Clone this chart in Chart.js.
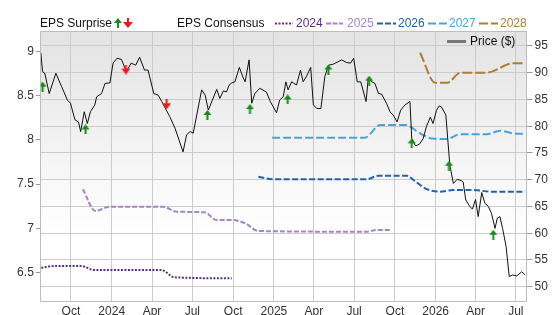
<!DOCTYPE html>
<html>
<head>
<meta charset="utf-8">
<script src="https://cdn.jsdelivr.net/npm/chart.js@4.4.1/dist/chart.umd.min.js"></script>
<style>
  body { margin: 0; background: #fff; }
  #wrap { position: relative; width: 556px; height: 315px; font-family: 'Liberation Sans', Arial, sans-serif; font-size: 12px; }
  #wrap canvas { position: absolute; left: 0; top: 0; }
  .lg { position: absolute; line-height: 14px; white-space: nowrap; color: #111; }
  .lg svg { display: block; }
</style>
</head>
<body>
<div id="wrap">
  <canvas id="grafica" width="556" height="315"></canvas>
  <div class="lg" style="left:40px;top:16px">EPS Surprise</div>
  <div class="lg" style="left:113px;top:18px"><svg width="10" height="10"><path d="M5 0 L9 5 L6 5 L6 10 L4 10 L4 5 L1 5 Z" fill="#1a8a1a"/></svg></div>
  <div class="lg" style="left:123px;top:18px"><svg width="10" height="10"><path d="M4 0 L6 0 L6 4 L10 4 L5 10 L0 4 L4 4 Z" fill="#f01818"/></svg></div>
  <div class="lg" style="left:177px;top:16px">EPS Consensus</div>
  <div class="lg" style="left:275px;top:22px"><svg width="18" height="3"><line x1="0" y1="1.5" x2="18" y2="1.5" stroke="#5b2d87" stroke-width="2" stroke-dasharray="2,1.5"/></svg></div>
  <div class="lg" style="left:296px;top:16px;color:#5b2d87">2024</div>
  <div class="lg" style="left:326px;top:22px"><svg width="17" height="3"><line x1="0" y1="1.5" x2="17" y2="1.5" stroke="#a685c6" stroke-width="2" stroke-dasharray="5,1.5"/></svg></div>
  <div class="lg" style="left:347px;top:16px;color:#a685c6">2025</div>
  <div class="lg" style="left:377px;top:22px"><svg width="19" height="3"><line x1="0" y1="1.5" x2="19" y2="1.5" stroke="#2461ad" stroke-width="2" stroke-dasharray="6,2"/></svg></div>
  <div class="lg" style="left:398px;top:16px;color:#2461ad">2026</div>
  <div class="lg" style="left:428px;top:22px"><svg width="19" height="3"><line x1="0" y1="1.5" x2="19" y2="1.5" stroke="#48a4d6" stroke-width="2" stroke-dasharray="8,3"/></svg></div>
  <div class="lg" style="left:449px;top:16px;color:#48a4d6">2027</div>
  <div class="lg" style="left:479px;top:22px"><svg width="19" height="3"><line x1="0" y1="1.5" x2="19" y2="1.5" stroke="#b07b32" stroke-width="2" stroke-dasharray="9,3"/></svg></div>
  <div class="lg" style="left:500px;top:16px;color:#b07b32">2028</div>
  <div class="lg" style="left:447px;top:40px"><svg width="19" height="3"><line x1="0" y1="1.5" x2="19" y2="1.5" stroke="#777" stroke-width="3"/></svg></div>
  <div class="lg" style="left:470px;top:34px">Price ($)</div>
</div>
<script>
// eje x: inicio de cada trimestre
const fechasTicks = ['2023-10-01','2024-01-01','2024-04-01','2024-07-01','2024-10-01','2025-01-01',
  '2025-04-01','2025-07-01','2025-10-01','2026-01-01','2026-04-01','2026-07-01'];
const etiquetasTicks = ['Oct','2024','Apr','Jul','Oct','2025','Apr','Jul','Oct','2026','Apr','Jul'];
const ticksEps = [6.5, 7, 7.5, 8, 8.5, 9];
const ticksPrecio = [50, 55, 60, 65, 70, 75, 80, 85, 90, 95];

const fechasPrecio = [
  '2023-07-25','2023-07-29','2023-08-03','2023-08-13','2023-08-28','2023-09-10','2023-09-23','2023-09-30','2023-10-10','2023-10-18',
  '2023-10-23','2023-10-31','2023-11-07','2023-11-14','2023-11-24','2023-11-28','2023-12-09','2023-12-17','2023-12-28',
  '2024-01-04','2024-01-13','2024-01-23','2024-02-03','2024-02-14','2024-02-24','2024-03-04','2024-03-15','2024-03-23','2024-04-05',
  '2024-04-15','2024-04-23','2024-05-11','2024-05-23','2024-06-10','2024-06-18','2024-06-26','2024-07-03','2024-07-22','2024-07-30',
  '2024-08-06','2024-08-25','2024-09-01','2024-09-09','2024-09-16','2024-09-22','2024-09-28','2024-10-05','2024-10-15','2024-10-24',
  '2024-10-28','2024-11-06','2024-11-12','2024-11-19','2024-11-30','2024-12-15','2024-12-24',
  '2025-01-07','2025-01-14','2025-01-22','2025-01-28','2025-02-02','2025-02-10','2025-02-21','2025-03-02','2025-03-08','2025-03-16',
  '2025-03-25','2025-03-31','2025-04-08','2025-04-17','2025-04-26','2025-05-04','2025-05-15','2025-06-03','2025-06-14','2025-06-23',
  '2025-06-30','2025-07-08','2025-07-16','2025-07-28','2025-08-02','2025-08-10','2025-08-17','2025-08-25','2025-09-01','2025-09-12',
  '2025-09-20','2025-09-27','2025-10-06','2025-10-14','2025-10-24','2025-11-04','2025-11-08','2025-11-17','2025-11-26','2025-12-04',
  '2025-12-11','2025-12-20','2025-12-26',
  '2026-01-03','2026-01-09','2026-01-14','2026-01-24','2026-02-02','2026-02-10','2026-02-19','2026-02-28','2026-03-04','2026-03-10',
  '2026-03-19','2026-03-25','2026-04-01','2026-04-07','2026-04-15','2026-04-22','2026-04-30','2026-05-07','2026-05-15','2026-05-20',
  '2026-05-26','2026-06-01','2026-06-09','2026-06-16','2026-06-24','2026-07-03','2026-07-14','2026-07-22'];
const precios = [
  93.7, 90.2, 89.9, 86.1, 89.9, 87.4, 84.9, 84.3, 81.2, 80.8,
  79.0, 82.7, 80.5, 82.7, 84.0, 85.5, 86.1, 88.0, 88.1,
  91.8, 92.7, 92.5, 90.2, 91.8, 91.4, 92.9, 90.5, 90.5, 86.1,
  85.8, 84.6, 81.8, 79.6, 75.2, 78.4, 79.0, 78.7, 86.8, 85.8,
  83.0, 86.9, 85.2, 86.6, 86.4, 87.7, 88.1, 88.3, 91.0, 89.0,
  88.3, 92.4, 84.3, 86.1, 87.1, 86.4, 84.6,
  82.5, 84.9, 85.5, 88.3, 86.8, 88.3, 87.7, 90.5, 88.3, 89.4,
  91.0, 84.0, 83.3, 83.3, 89.3, 91.4, 91.6, 92.4, 91.9, 91.8,
  92.7, 88.3, 88.3, 84.6, 89.0, 88.3, 88.0, 86.1, 86.0, 84.3,
  82.7, 82.1, 80.8, 83.0, 84.0, 84.6, 77.7, 76.3, 76.7, 77.7,
  79.9, 81.7, 80.5,
  83.0, 83.8, 83.6, 82.1, 72.7, 69.3, 70.1, 69.8, 69.6, 66.2,
  65.0, 64.5, 66.3, 63.1, 67.6, 65.6, 65.0, 63.7, 60.9, 62.8,
  63.1, 60.9, 57.5, 51.9, 52.2, 52.0, 52.8, 52.2];

// consenso EPS por año fiscal
const fechas2024 = ['2023-07-26','2023-08-25','2023-10-24','2023-11-23','2024-04-22','2024-05-22','2024-09-28'];
const eps2024 = [6.556, 6.576, 6.576, 6.530, 6.530, 6.448, 6.437];
const fechas2025 = ['2023-10-28','2023-11-25','2023-12-27','2024-04-26','2024-05-26','2024-07-29','2024-08-24','2024-09-28',
  '2024-10-28','2024-11-27','2025-07-29','2025-08-21','2025-09-23'];
const eps2025 = [7.442, 7.197, 7.245, 7.245, 7.189, 7.182, 7.095, 7.095, 7.058, 6.971, 6.963, 6.982, 6.982];
const fechas2026 = ['2024-11-27','2024-12-31','2025-07-29','2025-08-25','2025-10-28','2025-11-12','2025-12-08','2026-01-11',
  '2026-02-09','2026-03-26','2026-05-09','2026-07-22'];
const eps2026 = [7.584, 7.555, 7.555, 7.595, 7.595, 7.547, 7.453, 7.415, 7.433, 7.433, 7.415, 7.415];
const fechas2027 = ['2024-12-28','2025-07-25','2025-08-29','2025-10-24','2025-11-27','2025-12-23','2026-01-26','2026-02-25',
  '2026-04-26','2026-05-26','2026-06-24','2026-07-22'];
const eps2027 = [8.024, 8.024, 8.168, 8.168, 8.074, 8.015, 8.010, 8.063, 8.063, 8.103, 8.074, 8.066];
const fechas2028 = ['2025-11-27','2025-12-31','2026-01-27','2026-02-26','2026-04-26','2026-06-25','2026-07-22'];
const eps2028 = [8.984, 8.645, 8.645, 8.758, 8.758, 8.864, 8.864];

// sorpresas EPS (posición sobre el precio)
const fechasSuperan = ['2023-07-29','2023-11-03','2024-08-04','2024-11-08','2025-02-01','2025-05-04','2025-08-04','2025-11-08','2026-01-31','2026-05-11'];
const valoresSuperan = [87.4, 79.4, 82.1, 83.2, 85.0, 90.6, 88.5, 76.8, 72.6, 59.7];
const fechasFallan = ['2024-02-02','2024-05-04'];
const valoresFallan = [90.6, 84.1];

const inicio = '2023-07-25';
const fin = '2026-07-25';

function ts(f) {
  const [a, m, d] = f.split('-').map(Number);
  return Date.UTC(a, m - 1, d);
}
function puntos(fechas, valores) {
  return fechas.map((f, i) => ({ x: ts(f), y: valores[i] }));
}

function flecha(color, arriba) {
  const c = document.createElement('canvas');
  c.width = 9; c.height = 10;
  const g = c.getContext('2d');
  g.fillStyle = color;
  g.beginPath();
  if (arriba) {
    g.moveTo(4.5, 0); g.lineTo(8.5, 5); g.lineTo(0.5, 5);
    g.fill();
    g.fillRect(3.5, 5, 2, 5);
  } else {
    g.moveTo(0, 4); g.lineTo(9, 4); g.lineTo(4.5, 10);
    g.fill();
    g.fillRect(3.5, 0, 2, 4);
  }
  return c;
}

const fuente = { family: "'Liberation Sans', Arial, sans-serif", size: 12 };

const fondo = {
  id: 'fondo',
  beforeDraw(chart) {
    const { ctx, chartArea: a } = chart;
    const grad = ctx.createLinearGradient(0, a.top, 0, a.bottom);
    grad.addColorStop(0, '#e3e3e3');
    grad.addColorStop(0.75, '#ffffff');
    ctx.save();
    ctx.fillStyle = grad;
    ctx.fillRect(a.left, a.top, a.right - a.left, a.bottom - a.top);
    ctx.restore();
  },
  afterDraw(chart) {
    const { ctx, chartArea: a } = chart;
    ctx.save();
    ctx.strokeStyle = '#bdbdbd';
    ctx.lineWidth = 1;
    ctx.beginPath();
    ctx.moveTo(a.left, a.top + 0.5);
    ctx.lineTo(a.right, a.top + 0.5);
    ctx.stroke();
    ctx.restore();
  }
};

function lineaEps(fechas, valores, color, dash) {
  return {
    type: 'line', data: puntos(fechas, valores), yAxisID: 'yEps',
    borderColor: color, borderWidth: 2, borderDash: dash, pointRadius: 0,
    cubicInterpolationMode: 'monotone', order: 3
  };
}

new Chart(document.getElementById('grafica').getContext('2d'), {
  data: {
    datasets: [
      { type: 'scatter', data: puntos(fechasSuperan, valoresSuperan), yAxisID: 'yPrecio',
        pointStyle: flecha('#1a8a1a', true), order: 0 },
      { type: 'scatter', data: puntos(fechasFallan, valoresFallan), yAxisID: 'yPrecio',
        pointStyle: flecha('#f01818', false), order: 0 },
      { type: 'line', data: puntos(fechasPrecio, precios), yAxisID: 'yPrecio',
        borderColor: '#111', borderWidth: 1, pointRadius: 0, tension: 0, order: 1 },
      lineaEps(fechas2024, eps2024, '#5b2d87', [2, 1.5]),
      lineaEps(fechas2025, eps2025, '#a685c6', [5, 2]),
      lineaEps(fechas2026, eps2026, '#2461ad', [6, 2.5]),
      lineaEps(fechas2027, eps2027, '#48a4d6', [8, 3]),
      lineaEps(fechas2028, eps2028, '#b07b32', [10, 3])
    ]
  },
  options: {
    responsive: false,
    animation: false,
    events: [],
    layout: { padding: { top: 31, left: 0, right: 0, bottom: 0 } },
    plugins: { legend: { display: false }, tooltip: { enabled: false } },
    scales: {
      x: {
        type: 'linear', min: ts(inicio), max: ts(fin),
        afterBuildTicks: s => { s.ticks = fechasTicks.map(f => ({ value: ts(f) })); },
        afterFit: s => { s.height = 13.5; },
        ticks: { autoSkip: false, maxRotation: 0, padding: 3, color: '#333', font: fuente,
          callback: (v, i) => etiquetasTicks[i] },
        grid: { color: '#cccccc', drawTicks: false },
        border: { color: '#bdbdbd' }
      },
      yEps: {
        position: 'left', min: 6.175, max: 9.229,
        afterBuildTicks: s => { s.ticks = ticksEps.map(v => ({ value: v })); },
        afterFit: s => { s.width = 40.8; },
        ticks: { padding: 2, color: '#333', font: fuente, callback: v => String(v) },
        grid: { drawOnChartArea: false, tickLength: 5, tickColor: '#999' },
        border: { color: '#bdbdbd' }
      },
      yPrecio: {
        position: 'right', min: 47.23, max: 97.8,
        afterBuildTicks: s => { s.ticks = ticksPrecio.map(v => ({ value: v })); },
        afterFit: s => { s.width = 29.5; },
        ticks: { padding: 2, color: '#333', font: fuente, callback: v => String(v) },
        grid: { color: '#cccccc', tickLength: 6, tickColor: '#999' },
        border: { color: '#bdbdbd' }
      }
    }
  },
  plugins: [fondo]
});
</script>
</body>
</html>
